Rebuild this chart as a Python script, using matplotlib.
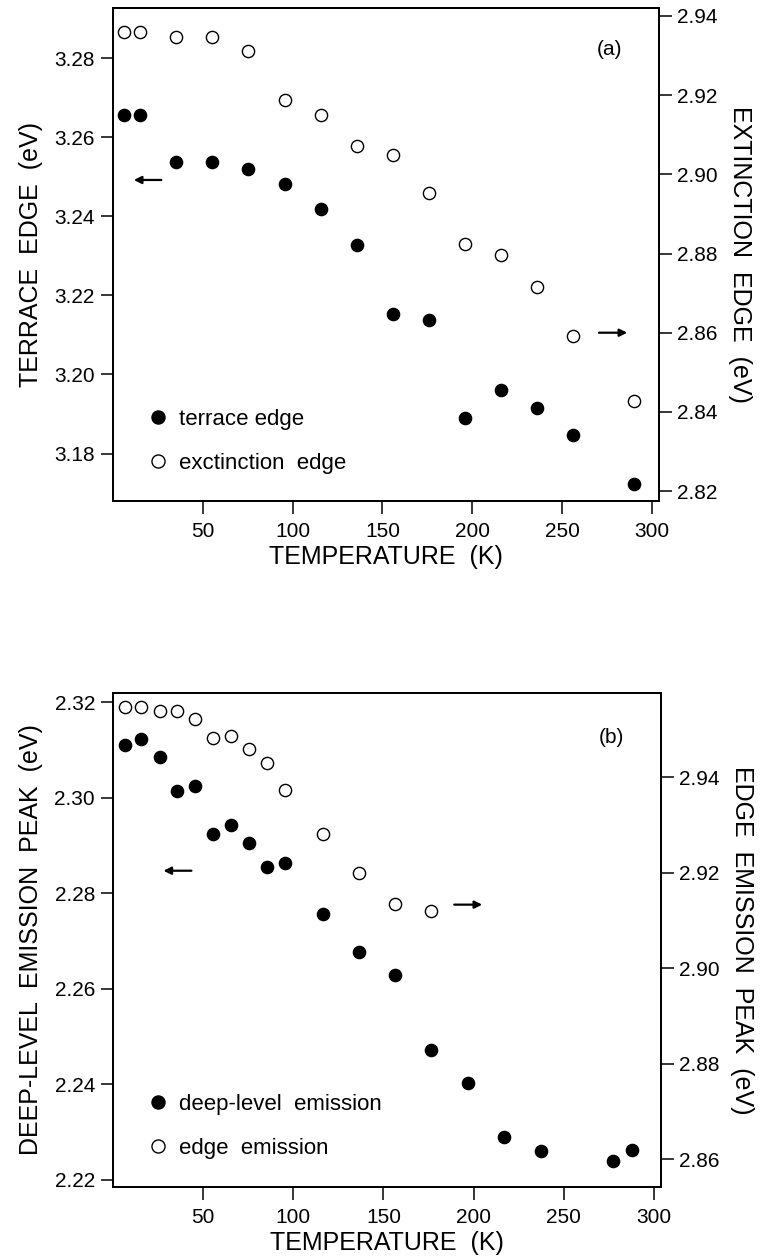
import matplotlib
matplotlib.use("Agg")
import matplotlib.pyplot as plt
from matplotlib.lines import Line2D

plt.rcParams['font.family'] = ['Liberation Sans', 'DejaVu Sans']

# ---------------- data: panel (a) ----------------
temp_a = [6, 15, 35, 55, 75, 96, 116, 136, 156, 176, 196, 216, 236, 256, 290]
terrace_edge = [3.2657, 3.2657, 3.2538, 3.2538, 3.2521, 3.2482, 3.2419, 3.2328,
                3.2154, 3.2137, 3.1889, 3.1962, 3.1915, 3.1847, 3.1724]
extinction_edge = [2.9359, 2.9359, 2.9347, 2.9348, 2.9311, 2.9188, 2.9151, 2.9072,
                   2.9050, 2.8952, 2.8825, 2.8796, 2.8716, 2.8592, 2.8428]

# ---------------- data: panel (b) ----------------
temp_b_deep = [6.5, 15.5, 26, 35.5, 45.5, 55.5, 65.5, 75.5, 85.5, 95.5, 116.5,
               136.5, 156.5, 176.5, 197, 217, 237.5, 277.5, 288]
deep_level = [2.3110, 2.3123, 2.3084, 2.3014, 2.3025, 2.2923, 2.2942, 2.2906,
              2.2854, 2.2863, 2.2757, 2.2677, 2.2628, 2.2472, 2.2402, 2.2289,
              2.2260, 2.2239, 2.2263]
temp_b_edge = [6.5, 15.5, 26, 35.5, 45.5, 55.5, 65.5, 75.5, 85.5, 95.5, 116.5,
               136.5, 156.5, 176.5]
edge_emission = [2.9547, 2.9547, 2.9538, 2.9538, 2.9521, 2.9482, 2.9487, 2.9459,
                 2.9429, 2.9374, 2.9281, 2.9200, 2.9134, 2.9120]

x_ticks = [50, 100, 150, 200, 250, 300]
a_left_ticks = [3.18, 3.20, 3.22, 3.24, 3.26, 3.28]
a_right_ticks = [2.82, 2.84, 2.86, 2.88, 2.90, 2.92, 2.94]
b_left_ticks = [2.22, 2.24, 2.26, 2.28, 2.30, 2.32]
b_right_ticks = [2.86, 2.88, 2.90, 2.92, 2.94]

W, H = 762, 1257
fig = plt.figure(figsize=(W / 100, H / 100), dpi=100)


def frame(px_left, px_top, px_right, px_bottom):
    return [px_left / W, 1 - px_bottom / H, (px_right - px_left) / W,
            (px_bottom - px_top) / H]


TICK_FS = 15
LABEL_FS = 18
LEG_FS = 16
MS = 8.8


def style(ax):
    for s in ax.spines.values():
        s.set_linewidth(1.3)
    ax.tick_params(direction='out', length=9, width=1.1, labelsize=TICK_FS)
    ax.tick_params(axis='y', pad=4)
    ax.tick_params(axis='x', pad=6)


def panel(rect, tx1, y1, tx2, y2, xlim, ylim1, ylim2, yt1, yt2,
          ylab1, ylab2, leg1, leg2, tag, tag_y, leg_y, arrow_l, arrow_r):
    ax = fig.add_axes(rect)
    ax2 = ax.twinx()
    ax.plot(tx1, y1, linestyle='none', marker='o', ms=MS, mfc='black',
            mec='black', zorder=3)
    ax2.plot(tx2, y2, linestyle='none', marker='o', ms=MS, mfc='white',
             mec='black', mew=1.0, zorder=3)
    ax.set_xlim(*xlim)
    ax.set_ylim(*ylim1)
    ax2.set_ylim(*ylim2)
    ax.set_xticks(x_ticks)
    ax.set_yticks(yt1)
    ax.set_yticklabels([f"{v:.2f}" for v in yt1])
    ax2.set_yticks(yt2)
    ax2.set_yticklabels([f"{v:.2f}" for v in yt2])
    style(ax)
    style(ax2)
    ax.set_xlabel("TEMPERATURE  (K)", fontsize=LABEL_FS, labelpad=3)
    ax.set_ylabel(ylab1, fontsize=LABEL_FS, labelpad=8)
    ax2.set_ylabel(ylab2, fontsize=LABEL_FS, rotation=-90, labelpad=25)
    ax.text(0.932, tag_y, tag, transform=ax.transAxes, fontsize=15,
            ha='right', va='center')
    # arrows
    ax.annotate('', xy=(arrow_l[0], arrow_l[2]), xytext=(arrow_l[1], arrow_l[2]),
                arrowprops=dict(arrowstyle='-|>', color='black', lw=1.6,
                                mutation_scale=11, shrinkA=0, shrinkB=0))
    ax2.annotate('', xy=(arrow_r[1], arrow_r[2]), xytext=(arrow_r[0], arrow_r[2]),
                 arrowprops=dict(arrowstyle='-|>', color='black', lw=1.6,
                                 mutation_scale=11, shrinkA=0, shrinkB=0))
    handles = [Line2D([], [], linestyle='none', marker='o', ms=MS + 0.6,
                      mfc='black', mec='black'),
               Line2D([], [], linestyle='none', marker='o', ms=MS + 0.6,
                      mfc='white', mec='black', mew=1.0)]
    ax2.legend(handles, [leg1, leg2], loc='lower left',
               bbox_to_anchor=(0.07, leg_y), frameon=False, fontsize=LEG_FS,
               handlelength=0.6, handletextpad=0.65, labelspacing=1.05,
               borderpad=0, borderaxespad=0)
    return ax, ax2


panel(frame(113, 8, 659, 501), temp_a, terrace_edge, temp_a, extinction_edge,
      (0, 304), (3.168, 3.2927), (2.8175, 2.942), a_left_ticks, a_right_ticks,
      "TERRACE  EDGE  (eV)", "EXTINCTION  EDGE  (eV)",
      "terrace edge", "exctinction  edge", "(a)", 0.915, 0.055,
      (11.6, 26.9, 3.2492), (270.6, 286.3, 2.8600))

panel(frame(113, 693, 661, 1187), temp_b_deep, deep_level, temp_b_edge,
      edge_emission, (0, 304), (2.2185, 2.3219), (2.8542, 2.9576),
      b_left_ticks, b_right_ticks,
      "DEEP-LEVEL  EMISSION  PEAK  (eV)", "EDGE  EMISSION  PEAK  (eV)",
      "deep-level  emission", "edge  emission", "(b)", 0.91, 0.057,
      (28.0, 43.5, 2.2847), (189.3, 204.8, 2.9133))

fig.savefig("out.png", dpi=100, facecolor='white')
